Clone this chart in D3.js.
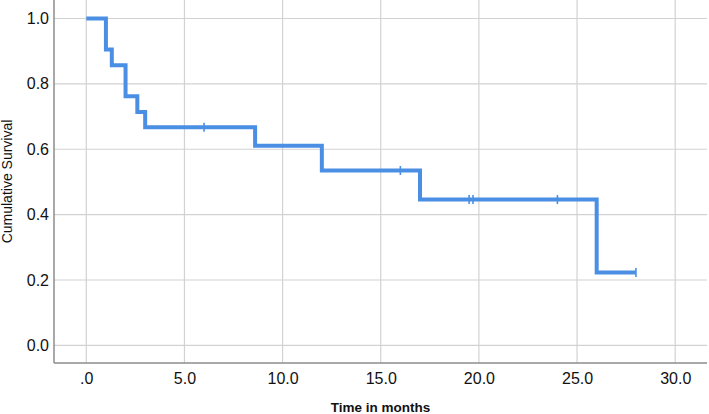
<!DOCTYPE html>
<html>
<head>
<meta charset="utf-8">
<script src="https://cdn.jsdelivr.net/npm/d3@7"></script>
<style>
  html, body { margin: 0; padding: 0; background: #fff; }
  svg { display: block; }
  text { font-family: "Liberation Sans", Arial, sans-serif; fill: #111; }
</style>
</head>
<body>
<script>
// ---- data ----
const eventTimes = [0, 1.0, 1.3, 2.0, 2.6, 3.0, 8.6, 12.0, 17.0, 26.0];
const survival   = [1.0, 0.905, 0.857, 0.762, 0.714, 0.667, 0.611, 0.535, 0.446, 0.223];
const lastTime = 28.0;
const censorTimes = [6.0, 16.0, 19.5, 19.7, 24.0, 28.0];
const xTicks = [0, 5, 10, 15, 20, 25, 30];
const yTicks = [0, 0.2, 0.4, 0.6, 0.8, 1.0];
const xTitle = "Time in months";
const yTitle = "Cumulative Survival";

const W = 709, H = 414;
const plot = { left: 54, right: 707, top: 0, bottom: 363 };

const svg = d3.select("body").append("svg").attr("width", W).attr("height", H);

const x = d3.scaleLinear().domain([-1.645, 31.62]).range([plot.left, plot.right]);
const y = d3.scaleLinear().domain([-0.054, 1.0566]).range([plot.bottom, plot.top]);

// grid
svg.append("g").selectAll("line").data(xTicks).join("line")
  .attr("x1", d => x(d)).attr("x2", d => x(d))
  .attr("y1", plot.top).attr("y2", plot.bottom)
  .attr("stroke", "#d2d2d2").attr("stroke-width", 1.2);
svg.append("g").selectAll("line").data(yTicks).join("line")
  .attr("x1", plot.left).attr("x2", plot.right)
  .attr("y1", d => y(d)).attr("y2", d => y(d))
  .attr("stroke", "#d2d2d2").attr("stroke-width", 1.2);

// axes
const xAxis = d3.axisBottom(x).tickValues(xTicks).tickSize(0).tickPadding(10)
  .tickFormat(d => d === 0 ? ".0" : d3.format(".1f")(d));
const gx = svg.append("g").attr("transform", `translate(0,${plot.bottom})`).call(xAxis);
gx.select(".domain").attr("stroke", "#8c8c8c").attr("stroke-width", 1.5)
  .attr("d", `M${plot.left},0H${plot.right}`);
gx.selectAll("text").attr("font-size", 16).attr("font-family", "Liberation Sans, Arial, sans-serif").attr("fill", "#111");

const yAxis = d3.axisLeft(y).tickValues(yTicks).tickSize(0).tickPadding(5)
  .tickFormat(d3.format(".1f"));
const gy = svg.append("g").attr("transform", `translate(${plot.left},0)`).call(yAxis);
gy.select(".domain").attr("stroke", "#8c8c8c").attr("stroke-width", 1.5)
  .attr("d", `M0,${plot.top}V${plot.bottom}`);
gy.selectAll("text").attr("font-size", 16).attr("font-family", "Liberation Sans, Arial, sans-serif").attr("fill", "#111");

// survival step line
const pts = eventTimes.map((t, i) => [t, survival[i]]);
pts.push([lastTime, survival[survival.length - 1]]);
const line = d3.line().x(d => x(d[0])).y(d => y(d[1])).curve(d3.curveStepAfter);
svg.append("path").datum(pts)
  .attr("d", line).attr("fill", "none")
  .attr("stroke", "#4a8fe3").attr("stroke-width", 4)
  .attr("stroke-linejoin", "miter").attr("stroke-linecap", "butt");

// censor marks
function survAt(t) {
  let s = survival[0];
  for (let i = 0; i < eventTimes.length; i++) if (eventTimes[i] <= t) s = survival[i];
  return s;
}
svg.append("g").selectAll("line").data(censorTimes).join("line")
  .attr("x1", d => x(d)).attr("x2", d => x(d))
  .attr("y1", d => y(survAt(d)) - 4.5).attr("y2", d => y(survAt(d)) + 4.5)
  .attr("stroke", "#4a8fe3").attr("stroke-width", 1.6);

// titles
svg.append("text").attr("x", (plot.left + plot.right) / 2).attr("y", 412)
  .attr("text-anchor", "middle").attr("font-size", 13.5).attr("font-weight", "bold")
  .text(xTitle);
svg.append("text")
  .attr("transform", `translate(12,${(plot.top + plot.bottom) / 2}) rotate(-90)`)
  .attr("text-anchor", "middle").attr("font-size", 14)
  .text(yTitle);
</script>
</body>
</html>
